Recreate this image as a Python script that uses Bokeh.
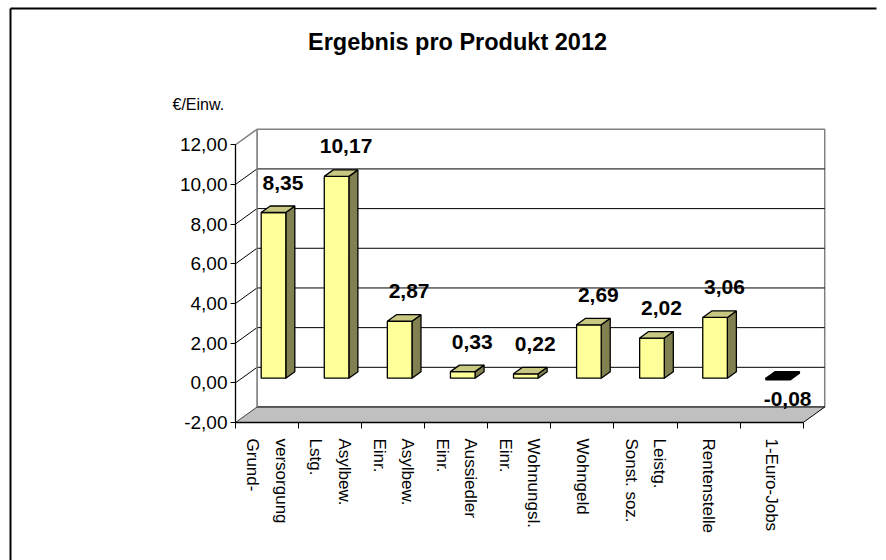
import numpy as np
from bokeh.plotting import figure
from bokeh.models import Range1d, FixedTicker, Label, ColumnDataSource, LinearAxis
from bokeh.embed import file_html
from bokeh.resources import INLINE
from bokeh.core.properties import value

# ---------------- data ----------------
title_text = "Ergebnis pro Produkt 2012"
unit_label = "€/Einw."
categories = ["Grund-\nversorgung", "Lstg.\nAsylbew.", "Einr.\nAsylbew.", "Einr.\nAussiedler",
              "Einr.\nWohnungsl.", "Wohngeld", "Sonst. soz.\nLeistg.", "Rentenstelle", "1-Euro-Jobs"]
values = [8.35, 10.17, 2.87, 0.33, 0.22, 2.69, 2.02, 3.06, -0.08]
y_ticks = [-2, 0, 2, 4, 6, 8, 10, 12]
y_tick_labels = ["-2,00", "0,00", "2,00", "4,00", "6,00", "8,00", "10,00", "12,00"]

# ---------------- layout ----------------
W, H = 886, 560
AX_L, AX_B = 235, 422          # pixel position of the front value axis / category axis
n = len(categories)
PX_X = 63.08                   # pixels per category
PX_Y = 19.84                   # pixels per value unit
ymin, ymax = y_ticks[0], y_ticks[-1]
DX = 21.5 / PX_X               # depth of the 3D box in data units
DY = 15.5 / PX_Y
F0, F1 = 0.30, 0.72            # bar front / back plane as fraction of depth
BW = 0.39                      # bar width
LINE_GAP = 0.45                # distance between the two lines of a category label

def cx(px):  # canvas pixel -> data x
    return (px - AX_L) / PX_X

def cy(py):  # canvas pixel (from top) -> data y
    return ymin + (AX_B - py) / PX_Y

FONT = "Liberation Sans"

p = figure(width=W, height=H, x_range=Range1d(cx(0), cx(W)), y_range=Range1d(cy(H), cy(0)),
           output_backend="svg", toolbar_location=None, title=None,
           x_axis_type=None, y_axis_type=None,
           min_border_left=0, min_border_right=0, min_border_top=0, min_border_bottom=0)
p.outline_line_color = None
p.background_fill_color = "white"
p.border_fill_color = "white"
p.xgrid.visible = False
p.ygrid.visible = False

# ---------------- walls ----------------
p.quad(left=DX, right=n + DX, bottom=ymin + DY, top=ymax + DY,
       fill_color="white", line_color="#808080", line_width=1.5)
p.patch([0, 0, DX, DX], [ymin, ymax, ymax + DY, ymin + DY], fill_color="white", line_color=None)
p.patch([0, n, n + DX, DX], [ymin, ymin, ymin + DY, ymin + DY], fill_color="#C0C0C0", line_color=None)

inner = y_ticks[:-1]
p.multi_line([[DX, n + DX] for v in inner], [[v + DY, v + DY] for v in inner],
             line_color="black", line_width=1)
p.multi_line([[0, DX] for v in y_ticks[1:-1]], [[v, v + DY] for v in y_ticks[1:-1]],
             line_color="black", line_width=1)
p.line([0, DX], [ymax, ymax + DY], line_color="#808080", line_width=1.5)
p.line([0, DX], [ymin, ymin + DY], line_color="#404040", line_width=1)
p.line([DX, DX], [ymin + DY, ymax + DY], line_color="#808080", line_width=1.5)
p.line([n, n + DX], [ymin, ymin + DY], line_color="black", line_width=1)

# ---------------- bars ----------------
vals = np.array(values)
centers = np.arange(n) + 0.5
xl = centers - BW / 2 + F0 * DX
xr = centers + BW / 2 + F0 * DX
lo = np.minimum(vals, 0) + F0 * DY
hi = np.maximum(vals, 0) + F0 * DY
ddx = (F1 - F0) * DX
ddy = (F1 - F0) * DY
pos = vals >= 0

front_xs = [[a, b, b, a] for a, b in zip(xl, xr)]
front_ys = [[l, l, h, h] for l, h in zip(lo, hi)]
side_xs = [[b, b + ddx, b + ddx, b] for b in xr]
side_ys = [[l, l + ddy, h + ddy, h] for l, h in zip(lo, hi)]
top_xs = [[a, b, b + ddx, a + ddx] for a, b in zip(xl, xr)]
top_ys = [[h, h, h + ddy, h + ddy] for h in hi]

p.patches(side_xs, side_ys, fill_color=["#808050" if s else "black" for s in pos],
          line_color="black", line_width=1.3)
p.patches(front_xs, front_ys, fill_color=["#FFFF99" if s else "black" for s in pos],
          line_color="black", line_width=1.3)
p.patches(top_xs, top_ys, fill_color=["#C8C882" if s else "black" for s in pos],
          line_color="black", line_width=1.3)

# ---------------- value labels ----------------
lab_src = ColumnDataSource(dict(
    x=centers + F0 * DX + 0.15,
    y=vals + F0 * DY,
    text=[f"{v:.2f}".replace(".", ",") for v in values],
    yoff=np.where(pos, -30, 19),
))
p.text(x="x", y="y", text="text", y_offset="yoff", source=lab_src,
       text_font=value(FONT), text_font_style="bold", text_font_size="21px",
       text_align="center", text_baseline="middle", text_color="black")

# ---------------- axes ----------------
yaxis = LinearAxis(ticker=FixedTicker(ticks=y_ticks),
                   major_label_overrides={t: l for t, l in zip(y_ticks, y_tick_labels)},
                   bounds=(ymin, ymax), fixed_location=0)
yaxis.axis_line_color = "black"
yaxis.axis_line_width = 1.3
yaxis.major_tick_out = 5
yaxis.major_tick_in = 0
yaxis.major_tick_line_color = "black"
yaxis.minor_tick_line_color = None
yaxis.major_label_text_font = FONT
yaxis.major_label_text_font_size = "19px"
yaxis.major_label_text_color = "black"
yaxis.major_label_standoff = 3
p.add_layout(yaxis, "left")

# category labels: one tick per text line, lines of a category side by side
line_pos, line_txt = [], []
for c, cat in zip(centers, categories):
    parts = cat.split("\n")
    k = len(parts)
    for j, part in enumerate(parts):
        line_pos.append(float(c + (j - (k - 1) / 2) * LINE_GAP))
        line_txt.append(part)

xaxis = LinearAxis(ticker=FixedTicker(ticks=line_pos, minor_ticks=list(range(n + 1))),
                   major_label_overrides={pp: t for pp, t in zip(line_pos, line_txt)},
                   bounds=(0, n), fixed_location=ymin)
xaxis.axis_line_color = "black"
xaxis.axis_line_width = 1.3
xaxis.major_tick_out = 0
xaxis.major_tick_in = 0
xaxis.major_tick_line_color = None
xaxis.minor_tick_out = 6
xaxis.minor_tick_in = 0
xaxis.minor_tick_line_color = "black"
xaxis.major_label_orientation = "vertical"
xaxis.major_label_text_font = FONT
xaxis.major_label_text_font_size = "17px"
xaxis.major_label_text_color = "black"
xaxis.major_label_standoff = 10
p.add_layout(xaxis, "below")

# ---------------- title, unit label, chart border ----------------
p.add_layout(Label(x=cx(457), y=cy(41), text=title_text, text_font=FONT, text_font_size="23.5px",
                   text_font_style="bold", text_align="center", text_baseline="middle", text_color="black"))
p.add_layout(Label(x=cx(172), y=cy(104), text=unit_label, text_font=FONT, text_font_size="16px",
                   text_align="left", text_baseline="middle", text_color="black"))
p.line([cx(10), cx(10)], [cy(H), cy(8)], line_color="black", line_width=2)
p.line([cx(10), cx(W - 10)], [cy(8), cy(8)], line_color="black", line_width=2)

open("out.html", "w").write(file_html(p, INLINE))
